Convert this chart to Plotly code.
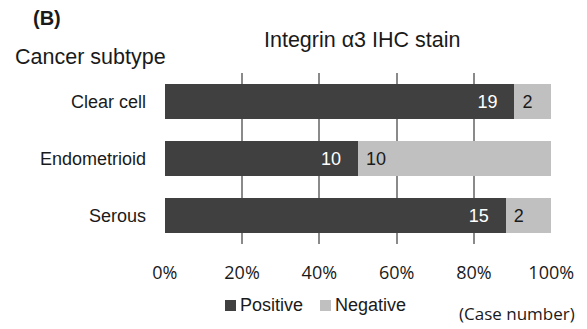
import plotly.graph_objects as go

categories = ["Clear cell", "Endometrioid", "Serous"]
positive = [19, 10, 15]
negative = [2, 10, 2]
x_ticks = [0, 0.2, 0.4, 0.6, 0.8, 1.0]
legend_names = ["Positive", "Negative"]
colors = ["#404040", "#c0c0c0"]

totals = [p + n for p, n in zip(positive, negative)]
pos_frac = [p / t for p, t in zip(positive, totals)]
neg_frac = [n / t for n, t in zip(negative, totals)]

W, H = 587, 329
L, R, T, B = 164, 35, 73, 85
PW, PH = W - L - R, H - T - B
FONT = "Liberation Sans, Arial"
NB = "\u00a0"


def px(x):
    return (x - L) / PW


def py(y):
    return (H - B - y) / PH


fig = go.Figure()
fig.add_trace(go.Bar(
    y=categories, x=pos_frac, orientation="h", name=legend_names[0],
    marker=dict(color=colors[0], line=dict(width=0)),
    text=[f"{v}\u2002{NB}" for v in positive], textposition="inside",
    insidetextanchor="end", textangle=0,
    textfont=dict(color="white", size=18, family=FONT),
    showlegend=False, hoverinfo="skip",
))
fig.add_trace(go.Bar(
    y=categories, x=neg_frac, orientation="h", name=legend_names[1],
    marker=dict(color=colors[1], line=dict(width=0)),
    text=[f"{NB}{v}" for v in negative], textposition="inside",
    insidetextanchor="start", textangle=0,
    textfont=dict(color="#1a1a1a", size=18, family=FONT),
    showlegend=False, hoverinfo="skip",
))

fig.update_layout(
    width=W, height=H, barmode="stack", bargap=0.4,
    margin=dict(l=L, r=R, t=T, b=B, autoexpand=False),
    paper_bgcolor="white", plot_bgcolor="white",
    font=dict(family=FONT, size=18, color="#1a1a1a"),
    uniformtext=dict(minsize=8, mode="show"),
    showlegend=False,
    xaxis=dict(range=[-0.002, 1.002], tickvals=x_ticks, tickformat=".0%",
               showgrid=True, gridcolor="#8a8a8a", gridwidth=2,
               zeroline=False, showline=False, ticks="",
               ticklabelstandoff=16,
               tickfont=dict(family="Open Sans", size=18, color="#1a1a1a"),
               fixedrange=True),
    yaxis=dict(categoryorder="array", categoryarray=categories[::-1],
               range=[-0.5, 2.5], showgrid=False, zeroline=False, showline=False,
               ticks="", ticklabelstandoff=17,
               tickfont=dict(size=18, family=FONT),
               fixedrange=True),
)

annots = [
    dict(text="<b>(B)</b>", x=31, y=18, xanchor="left", font=dict(size=20)),
    dict(text="Cancer subtype", x=13, y=57, xanchor="left", font=dict(size=21.5)),
    dict(text="Integrin α3 IHC stain", x=362, y=40, xanchor="center", font=dict(size=21.5)),
    dict(text=legend_names[0], x=238, y=305, xanchor="left", font=dict(size=18)),
    dict(text=legend_names[1], x=333, y=305, xanchor="left", font=dict(size=18)),
    dict(text="(Case number)", x=577, y=313, xanchor="right",
         font=dict(size=17, family="Open Sans")),
]
for a in annots:
    fig.add_annotation(text=a["text"], x=px(a["x"]), y=py(a["y"]), xref="paper", yref="paper",
                       xanchor=a["xanchor"], yanchor="middle", showarrow=False, font=a["font"])

# legend swatches
for x0, c in zip([225, 320], colors):
    fig.add_shape(type="rect", xref="paper", yref="paper",
                  x0=px(x0), x1=px(x0 + 11), y0=py(300), y1=py(311),
                  fillcolor=c, line=dict(width=0))

fig.write_html("out.html", config={"displayModeBar": False, "staticPlot": True},
               post_script="document.body.style.margin='0px';")
